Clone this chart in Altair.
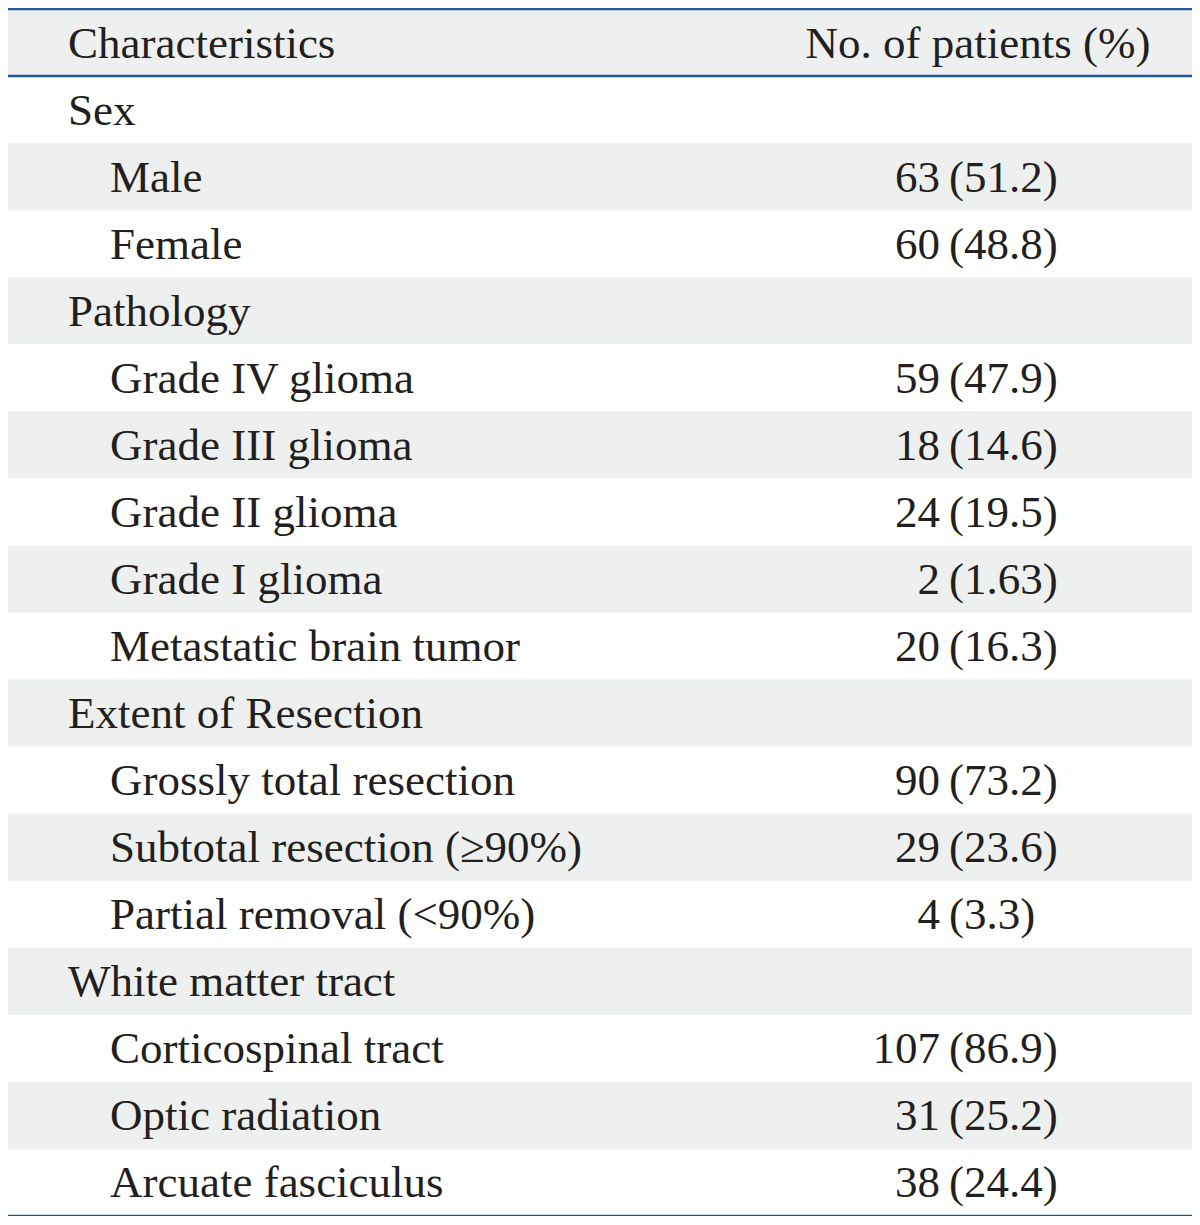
import altair as alt
import pandas as pd

# ---- data ----
header_left = "Characteristics"
header_right = "No. of patients (%)"
labels = ["Sex", "Male", "Female", "Pathology", "Grade IV glioma", "Grade III glioma",
          "Grade II glioma", "Grade I glioma", "Metastatic brain tumor",
          "Extent of Resection", "Grossly total resection", "Subtotal resection (≥90%)",
          "Partial removal (<90%)", "White matter tract", "Corticospinal tract",
          "Optic radiation", "Arcuate fasciculus"]
levels = [0, 1, 1, 0, 1, 1, 1, 1, 1, 0, 1, 1, 1, 0, 1, 1, 1]
counts = ["", "63", "60", "", "59", "18", "24", "2", "20", "", "90", "29", "4", "", "107", "31", "38"]
percents = ["", "51.2", "48.8", "", "47.9", "14.6", "19.5", "1.63", "16.3", "", "73.2",
            "23.6", "3.3", "", "86.9", "25.2", "24.4"]

W = 1184
H = 1207
N = len(labels) + 1  # rows including header
FONT = "Liberation Serif"
FS = 45
TXT = "#231f20"
GRAY = "#eeefef"
BLUE = "#1d5a9e"

rows = pd.DataFrame({
    "row": list(range(1, N)),
    "label": labels,
    "level": levels,
    "count": counts,
    "pct": [f"({p})" if p else "" for p in percents],
})
rows["yc"] = rows["row"] + 0.5

bg = pd.DataFrame({"row": list(range(N))})
bg["row2"] = bg["row"] + 1
bg = bg[bg["row"] % 2 == 0]

lines = pd.DataFrame({"pos": [0, 1, N]})
head = pd.DataFrame({"yc": [0.5], "left": [header_left], "right": [header_right]})

yscale = alt.Scale(domain=[0, N], reverse=True, nice=False, zero=False)

rects = alt.Chart(bg).mark_rect(color=GRAY).encode(
    y=alt.Y("row:Q", scale=yscale, axis=None),
    y2="row2:Q",
    x=alt.value(0), x2=alt.value(W),
)

rules = alt.Chart(lines).mark_rule(color=BLUE, strokeWidth=2.5).encode(
    y=alt.Y("pos:Q", scale=yscale, axis=None),
    x=alt.value(0), x2=alt.value(W),
)

def txt(data, field, xpos, align, filt=None):
    c = alt.Chart(data)
    if filt is not None:
        c = c.transform_filter(filt)
    return c.mark_text(font=FONT, fontSize=FS, color=TXT, align=align,
                       baseline="alphabetic", dy=15).encode(
        y=alt.Y("yc:Q", scale=yscale, axis=None),
        x=alt.value(xpos),
        text=f"{field}:N",
    )

cat_text = txt(rows, "label", 60, "left", alt.datum.level == 0)
item_text = txt(rows, "label", 102, "left", alt.datum.level == 1)
num_text = txt(rows, "count", 932, "right", alt.datum.count != "")
pct_text = txt(rows, "pct", 941, "left", alt.datum.pct != "")
h_left = txt(head, "left", 60, "left")
h_right = txt(head, "right", 970, "center")

chart = alt.layer(rects, rules, cat_text, item_text, num_text, pct_text, h_left, h_right).properties(
    width=W, height=H,
    autosize=alt.AutoSizeParams(type="none"),
    padding={"left": 0, "top": 1, "right": 0, "bottom": 0},
).configure_view(stroke=None)

chart.save("out.html", embed_options={"renderer": "svg", "actions": False})
